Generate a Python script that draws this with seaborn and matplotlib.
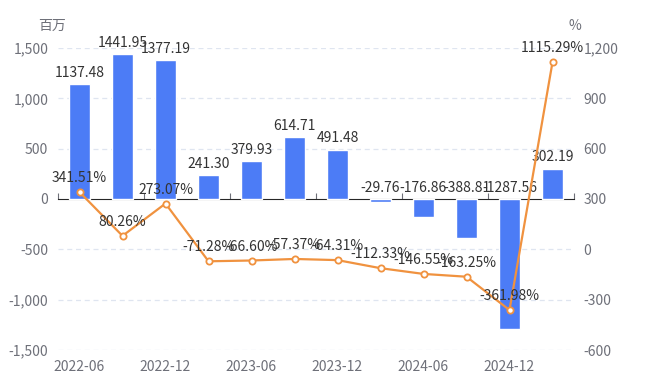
import matplotlib
matplotlib.use("Agg")
import matplotlib.pyplot as plt
import seaborn as sns
import numpy as np

# данные с картинки
periods = ['2022-06', '2022-09', '2022-12', '2023-03', '2023-06', '2023-09',
           '2023-12', '2024-03', '2024-06', '2024-09', '2024-12', '2025-03']
profit = [1137.48, 1441.95, 1377.19, 241.30, 379.93, 614.71,
          491.48, -29.76, -176.86, -388.81, -1287.56, 302.19]
growth = [341.51, 80.26, 273.07, -71.28, -66.60, -57.37,
          -64.31, -112.33, -146.55, -163.25, -361.98, 1115.29]
left_ticks = [-1500, -1000, -500, 0, 500, 1000, 1500]
right_ticks = [-600, -300, 0, 300, 600, 900, 1200]

BAR = '#4c7cf6'
LINE = '#f0923f'
TXT = '#333333'
AX = '#6e7079'

sns.set_style('white')
plt.rcParams['font.family'] = ['Noto Sans CJK SC', 'DejaVu Sans']

fig = plt.figure(figsize=(6.5, 3.82), dpi=100)
ax = fig.add_axes([58/650, 1-350/382, 516/650, 302/382])

sns.barplot(x=periods, y=profit, color=BAR, width=0.5, saturation=1, ax=ax, zorder=2)
ax.set_ylim(-1500, 1500)
ax.set_yticks(left_ticks)
ax.set_yticklabels([f'{t:,}' for t in left_ticks], color=AX, fontsize=10)
for t in left_ticks:
    if t != 0:
        ax.axhline(t, color='#dfe5f0', lw=0.9, ls=(0, (4, 3)), zorder=0)
for s in ax.spines.values():
    s.set_visible(False)
ax.tick_params(axis='both', length=0, pad=7)
ax.set_xticks(range(0, len(periods), 2))
ax.set_xticklabels(periods[::2], color=AX, fontsize=10)
ax.set_xlabel('')
ax.set_xlim(-0.5, len(periods) - 0.5)

# ось X на нуле с засечками между категориями
sec = ax.secondary_xaxis(0.5)
sec.spines['bottom'].set_color(AX)
sec.spines['bottom'].set_linewidth(1)
sec.set_xticks(np.arange(-0.5, len(periods), 2))
sec.set_xticklabels([])
sec.tick_params(length=4, color=AX, direction='out')

for i, v in enumerate(profit):
    ax.annotate(f'{v:.2f}', (i, max(v, 0)), xytext=(0, 3), textcoords='offset points',
                ha='center', va='bottom', fontsize=10, color=TXT, zorder=5)

ax2 = ax.twinx()
sns.lineplot(x=np.arange(len(periods)), y=growth, ax=ax2, color=LINE, lw=1.6,
             marker='o', markersize=4.5, markerfacecolor='white',
             markeredgecolor=LINE, markeredgewidth=1.3, zorder=3)
ax2.set_ylim(-600, 1200)
ax2.set_yticks(right_ticks)
ax2.set_yticklabels([f'{t:,}' for t in right_ticks], color=AX, fontsize=10)
ax2.tick_params(axis='y', length=0, pad=7)
for s in ax2.spines.values():
    s.set_visible(False)
ax2.set_xlim(-0.5, len(periods) - 0.5)
for i, v in enumerate(growth):
    ax2.annotate(f'{v:.2f}%', (i, v), xytext=(0, 5), textcoords='offset points',
                 ha='center', va='bottom', fontsize=10, color=TXT, zorder=6)

fig.text(52/650, 1-26/382, '百万', ha='center', va='center', fontsize=10, color=AX)
fig.text(575/650, 1-26/382, '%', ha='center', va='center', fontsize=10, color=AX)

fig.savefig('out.png', dpi=100)
